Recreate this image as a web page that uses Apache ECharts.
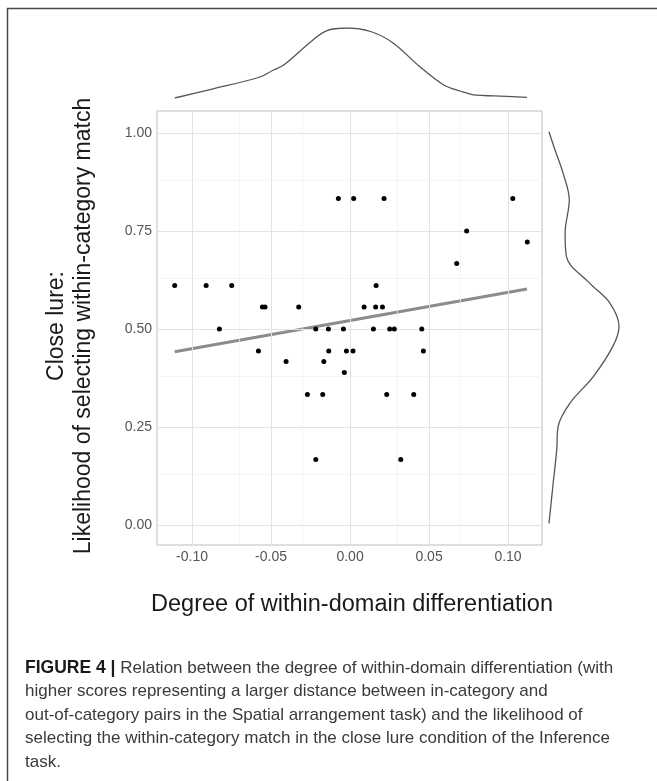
<!DOCTYPE html>
<html>
<head>
<meta charset="utf-8">
<script src="https://cdn.jsdelivr.net/npm/echarts@6/dist/echarts.min.js"></script>
<style>
html,body{margin:0;padding:0;background:#fff;}
#chart{width:657px;height:781px;}
</style>
</head>
<body>
<div id="chart"></div>
<script>
// ---- data ----
const xValues = [-0.0074, 0.0023, 0.0215, 0.103, 0.0738, 0.1122, 0.0675,
  -0.111, -0.0911, -0.0749, 0.0165,
  -0.0555, -0.0538, -0.0325, 0.0089, 0.0162, 0.0205,
  -0.0827, -0.058, -0.0405, -0.027, -0.0217, -0.0217, -0.0173, -0.0166,
  -0.0137, -0.0135, -0.0042, -0.0036, -0.0023, 0.0019, 0.0148, 0.0232,
  0.0251, 0.028, 0.0321, 0.0403, 0.0454, 0.0464];
const yValues = [0.833, 0.833, 0.833, 0.833, 0.75, 0.722, 0.667,
  0.611, 0.611, 0.611, 0.611,
  0.556, 0.556, 0.556, 0.556, 0.556, 0.556,
  0.5, 0.444, 0.417, 0.333, 0.5, 0.167, 0.333, 0.417,
  0.5, 0.444, 0.5, 0.389, 0.444, 0.444, 0.5, 0.333,
  0.5, 0.5, 0.167, 0.333, 0.5, 0.444];

// fitted regression line endpoints
const fitX = [-0.111, 0.112];
const fitY = [0.442, 0.602];

// marginal density of x (relative height)
const densXx = [-0.111, -0.0886, -0.057, -0.0485, -0.042, -0.025, -0.015, -0.002, 0.013, 0.027, 0.044, 0.059, 0.0696, 0.080, 0.091, 0.112];
const densXd = [0.00, 0.12, 0.30, 0.40, 0.47, 0.80, 0.96, 1.00, 0.95, 0.79, 0.45, 0.19, 0.10, 0.04, 0.03, 0.01];

// marginal density of y (relative width)
const densYy = [1.003, 0.957, 0.898, 0.829, 0.745, 0.684, 0.617, 0.566, 0.506, 0.455, 0.378, 0.311, 0.251, 0.191, 0.107, 0.004];
const densYd = [0.00, 0.085, 0.20, 0.29, 0.23, 0.25, 0.58, 0.87, 1.00, 0.91, 0.63, 0.30, 0.13, 0.11, 0.06, 0.00];

// ticks and gridlines
const xTicks = [-0.10, -0.05, 0.00, 0.05, 0.10];
const xMinor = [-0.075, -0.025, 0.025, 0.075];
const yTicks = [0.00, 0.25, 0.50, 0.75, 1.00];
const yMinor = [0.125, 0.375, 0.625, 0.875];

const xTitle = 'Degree of within-domain differentiation';
const yTitle1 = 'Close lure:';
const yTitle2 = 'Likelihood of selecting within-category match';
const captionBold = 'FIGURE 4 |';
const captionLines = [
  ' Relation between the degree of within-domain differentiation (with',
  'higher scores representing a larger distance between in-category and',
  'out-of-category pairs in the Spatial arrangement task) and the likelihood of',
  'selecting the within-category match in the close lure condition of the Inference',
  'task.'
];

// ---- chart ----
const FONT = '"Liberation Sans", Arial, Helvetica, sans-serif';
const X_MIN = -0.1222, X_MAX = 0.1215, Y_MIN = -0.051, Y_MAX = 1.056;

const points = xValues.map((x, i) => [x, yValues[i]]);
const fitData = fitX.map((x, i) => [x, fitY[i]]);
const topDens = densXx.map((x, i) => [x, densXd[i]]);
const rightDens = densYy.map((y, i) => [densYd[i], y]);

const minorStyle = {color: '#f0f0f0', width: 0.7, type: 'solid'};
const majorStyle = {color: '#e3e3e3', width: 1, type: 'solid'};
const gridMarks = [];
xMinor.forEach(v => gridMarks.push({xAxis: v, lineStyle: minorStyle}));
yMinor.forEach(v => gridMarks.push({yAxis: v, lineStyle: minorStyle}));
xTicks.forEach(v => gridMarks.push({xAxis: v, lineStyle: majorStyle}));
yTicks.forEach(v => gridMarks.push({yAxis: v, lineStyle: majorStyle}));

const fmt = v => (Math.abs(v) < 1e-9 ? 0 : v).toFixed(2);

const chart = echarts.init(document.getElementById('chart'), null, {renderer: 'canvas'});
chart.setOption({
  animation: false,
  backgroundColor: '#ffffff',
  textStyle: {fontFamily: FONT},
  grid: [
    {left: 157, right: 115, top: 111, bottom: 236, show: true, borderColor: '#bdbdbd', borderWidth: 1, containLabel: false},
    {left: 157, right: 115, top: 28, height: 70, show: false},
    {left: 549, width: 70, top: 111, bottom: 236, show: false}
  ],
  xAxis: [
    {type: 'value', gridIndex: 0, min: X_MIN, max: X_MAX,
      axisLine: {show: false}, splitLine: {show: false},
      axisTick: {show: true, length: 3, customValues: xTicks, lineStyle: {color: '#9a9a9a', width: 1}},
      axisLabel: {show: true, customValues: xTicks, formatter: fmt, margin: 5, fontSize: 14, color: '#555', fontFamily: FONT}},
    {type: 'value', gridIndex: 1, min: X_MIN, max: X_MAX, show: false},
    {type: 'value', gridIndex: 2, min: 0, max: 1, show: false}
  ],
  yAxis: [
    {type: 'value', gridIndex: 0, min: Y_MIN, max: Y_MAX,
      axisLine: {show: false}, splitLine: {show: false},
      axisTick: {show: true, length: 3, customValues: yTicks, lineStyle: {color: '#9a9a9a', width: 1}},
      axisLabel: {show: true, customValues: yTicks, formatter: fmt, margin: 5, fontSize: 14, color: '#555', fontFamily: FONT}},
    {type: 'value', gridIndex: 1, min: 0, max: 1, show: false},
    {type: 'value', gridIndex: 2, min: Y_MIN, max: Y_MAX, show: false}
  ],
  series: [
    {type: 'scatter', name: 'gridlines', xAxisIndex: 0, yAxisIndex: 0, data: [], z: 1, silent: true,
      markLine: {silent: true, symbol: ['none', 'none'], label: {show: false}, animation: false, data: gridMarks}},
    {type: 'scatter', name: 'points', xAxisIndex: 0, yAxisIndex: 0, data: points, symbolSize: 5,
      itemStyle: {color: '#000', opacity: 1}, z: 5},
    {type: 'line', name: 'fit', xAxisIndex: 0, yAxisIndex: 0, data: fitData, showSymbol: false, symbol: 'none',
      lineStyle: {color: '#8c8c8c', width: 3}, z: 4},
    {type: 'line', name: 'densX', xAxisIndex: 1, yAxisIndex: 1, data: topDens, smooth: 0.35, symbol: 'none',
      lineStyle: {color: '#555', width: 1.3}},
    {type: 'line', name: 'densY', xAxisIndex: 2, yAxisIndex: 2, data: rightDens, smooth: 0.35, symbol: 'none',
      lineStyle: {color: '#555', width: 1.3}}
  ],
  graphic: [
    {type: 'line', shape: {x1: 7, y1: 8.5, x2: 657, y2: 8.5}, style: {stroke: '#4a4a4a', lineWidth: 1.5}, silent: true},
    {type: 'line', shape: {x1: 7.5, y1: 8, x2: 7.5, y2: 781}, style: {stroke: '#4a4a4a', lineWidth: 1.5}, silent: true},
    {type: 'text', x: 352, y: 605, silent: true,
      style: {text: xTitle, font: '23.5px ' + FONT, fill: '#1a1a1a', align: 'center', verticalAlign: 'middle'}},
    {type: 'text', x: 70, y: 326, rotation: Math.PI / 2, silent: true,
      style: {text: yTitle1 + '\n' + yTitle2, font: '23px ' + FONT, fill: '#1a1a1a', align: 'center', verticalAlign: 'middle', lineHeight: 27}},
    {type: 'text', x: 25, y: 656.5, silent: true,
      style: {
        text: '{b|' + captionBold + '}{r|' + captionLines[0] + '}\n' + captionLines.slice(1).map(l => '{r|' + l + '}').join('\n'),
        align: 'left', verticalAlign: 'top',
        rich: {
          b: {fontFamily: FONT, fontSize: 17.5, fontWeight: 'bold', fill: '#1a1a1a', color: '#1a1a1a', lineHeight: 23.5},
          r: {fontFamily: FONT, fontSize: 17, fill: '#3a3a3a', color: '#3a3a3a', lineHeight: 23.5}
        }
      }}
  ]
});
</script>
</body>
</html>
